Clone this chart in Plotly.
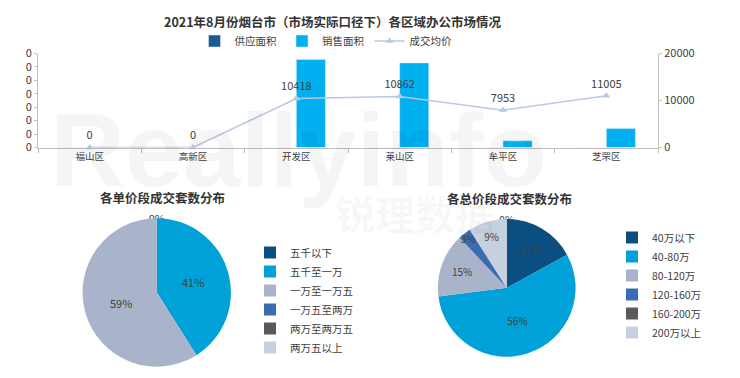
import plotly.graph_objects as go

W, H = 740, 378

# ---------------- data ----------------
districts = ["福山区", "高新区", "开发区", "莱山区", "牟平区", "芝罘区"]
supply_area = [0, 0, 0, 0, 0, 0]
sales_area = [0, 0, 32800, 31500, 2500, 7050]
avg_price = [0, 0, 10418, 10862, 7953, 11005]
left_tickvals = [0, 5000, 10000, 15000, 20000, 25000, 30000, 35000]
left_ticktext = ["0", "0", "0", "0", "0", "0", "0", "0"]

unit_labels = ["五千以下", "五千至一万", "一万至一万五", "一万五至两万", "两万至两万五", "两万五以上"]
unit_values = [0, 41, 59, 0, 0, 0]
unit_colors = ["#0B4F82", "#00A0D8", "#A9B4CA", "#3A6DB0", "#595959", "#C6D0DE"]

total_labels = ["40万以下", "40-80万", "80-120万", "120-160万", "160-200万", "200万以上"]
total_values = [17, 56, 15, 3, 0, 9]
total_colors = ["#0B4F82", "#00A0D8", "#A9B4CA", "#3A6DB0", "#595959", "#C6D0DE"]

FONT = "Noto Sans CJK SC"
TXT = "#404040"


def px_x(x):
    return x / W


def px_y(y):
    return (H - y) / H


# only the first of the coincident zero slices carries a visible "0%" label
unit_templates = []
seen_zero = False
for v in unit_values:
    if v == 0 and seen_zero:
        unit_templates.append("")
    else:
        unit_templates.append("%{percent:.0%}")
    if v == 0:
        seen_zero = True

fig = go.Figure()

fig.add_trace(go.Bar(
    x=districts, y=supply_area, name="供应面积", marker_color="#1D5B97",
    xaxis="x", yaxis="y", legend="legend"))
fig.add_trace(go.Bar(
    x=districts, y=sales_area, name="销售面积", marker_color="#00B0F0",
    xaxis="x", yaxis="y", legend="legend"))
fig.add_trace(go.Scatter(
    x=districts, y=avg_price, name="成交均价", mode="lines+markers+text",
    line=dict(color="#B8C8E6", width=1.5),
    marker=dict(symbol="triangle-up", size=7, color="#B8C8E6"),
    text=[str(v) for v in avg_price], textposition="top center",
    textfont=dict(size=11, color=TXT, family=FONT),
    xaxis="x", yaxis="y2", legend="legend", cliponaxis=False))

fig.add_trace(go.Pie(
    labels=unit_labels, values=unit_values, sort=False, direction="clockwise",
    rotation=0, marker=dict(colors=unit_colors), texttemplate=unit_templates,
    textposition="inside", insidetextorientation="horizontal",
    textfont=dict(size=11, color=TXT, family=FONT),
    domain=dict(x=[px_x(82.5), px_x(231)], y=[px_y(366.7), px_y(218.3)]),
    legend="legend2", showlegend=True))

fig.add_trace(go.Pie(
    labels=total_labels, values=total_values, sort=False, direction="clockwise",
    rotation=0, marker=dict(colors=total_colors), textinfo="percent",
    textposition="inside", insidetextorientation="horizontal",
    textfont=dict(size=10, color=TXT, family=FONT),
    domain=dict(x=[px_x(437.7), px_x(575.7)], y=[px_y(356.7), px_y(219)]),
    legend="legend3", showlegend=True))

axis_common = dict(showgrid=False, zeroline=False, showline=True,
                   linecolor="#BFBFBF", linewidth=1, ticks="outside",
                   tickcolor="#BFBFBF", ticklen=3,
                   tickfont=dict(size=11, color=TXT, family=FONT))

fig.update_layout(
    width=W, height=H, margin=dict(l=0, r=0, t=0, b=0, autoexpand=False),
    paper_bgcolor="white", plot_bgcolor="rgba(0,0,0,0)",
    font=dict(family=FONT, color=TXT),
    barmode="group", bargap=0.437, bargroupgap=0,
    uniformtext=dict(minsize=10, mode="show"),
    xaxis=dict(domain=[px_x(38), px_x(658)], anchor="y", type="category",
               tickson="boundaries",
               **{**axis_common, "tickfont": dict(size=9.5, color=TXT, family=FONT), "ticklen": 4}),
    yaxis=dict(domain=[px_y(147.5), px_y(53.5)], anchor="x", range=[0, 35000],
               tickvals=left_tickvals, ticktext=left_ticktext, **axis_common),
    yaxis2=dict(overlaying="y", side="right", anchor="x", range=[0, 20000],
                dtick=10000, tickformat="d", **axis_common),
    legend=dict(orientation="h", x=px_x(326), xanchor="center", y=px_y(41), yanchor="middle",
                font=dict(size=10.5, color=TXT, family=FONT), bgcolor="rgba(0,0,0,0)",
                itemwidth=30, tracegroupgap=0),
    legend2=dict(x=px_x(250), xanchor="left", y=px_y(300), yanchor="middle",
                 font=dict(size=10.5, color=TXT, family=FONT), bgcolor="rgba(0,0,0,0)",
                 itemwidth=30),
    legend3=dict(x=px_x(612), xanchor="left", y=px_y(285), yanchor="middle",
                 font=dict(size=10.5, color=TXT, family=FONT), bgcolor="rgba(0,0,0,0)",
                 itemwidth=30),
    annotations=[
        dict(text="<b>2021年8月份烟台市（市场实际口径下）各区域办公市场情况</b>", x=px_x(332), y=px_y(21),
             xref="paper", yref="paper", showarrow=False, xanchor="center", yanchor="middle",
             font=dict(size=12.5, color="#333333", family=FONT)),
        dict(text="<b>各单价段成交套数分布</b>", x=px_x(162), y=px_y(197),
             xref="paper", yref="paper", showarrow=False, xanchor="center", yanchor="middle",
             font=dict(size=12.5, color="#333333", family=FONT)),
        dict(text="<b>各总价段成交套数分布</b>", x=px_x(509), y=px_y(198),
             xref="paper", yref="paper", showarrow=False, xanchor="center", yanchor="middle",
             font=dict(size=12.5, color="#333333", family=FONT)),
        dict(text="<b>Reallyinfo</b>", x=px_x(298), y=px_y(150),
             xref="paper", yref="paper", showarrow=False, xanchor="center", yanchor="middle",
             font=dict(size=104, color="rgba(0,0,0,0.04)", family="Liberation Sans")),
        dict(text="<b>锐理数据</b>", x=px_x(415), y=px_y(213),
             xref="paper", yref="paper", showarrow=False, xanchor="center", yanchor="middle",
             font=dict(size=40, color="rgba(0,0,0,0.04)", family=FONT)),
    ],
)

fig.write_html("out.html", config={"displayModeBar": False},
               post_script="document.body.style.margin='0px';document.body.style.padding='0px';")
